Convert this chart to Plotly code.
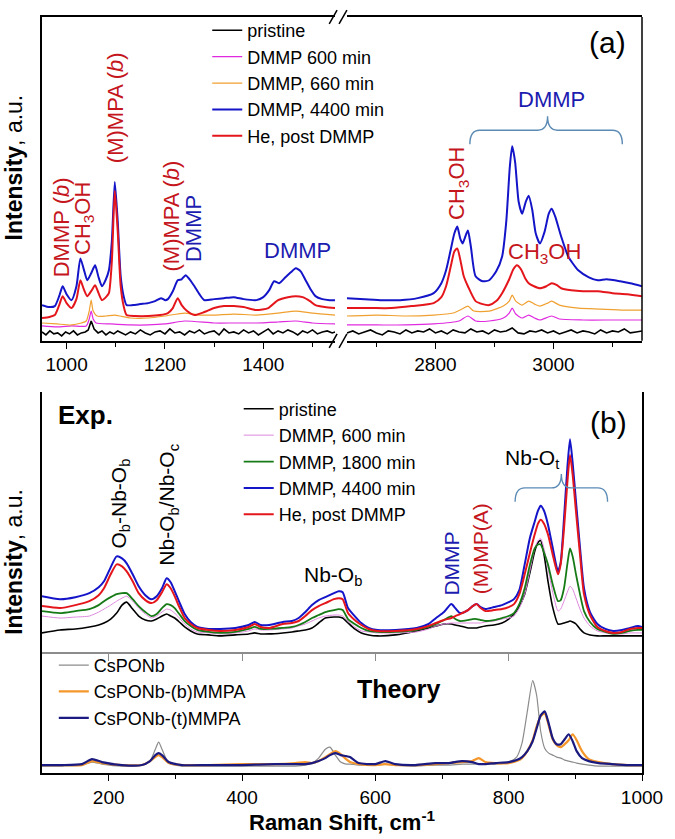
import plotly.graph_objects as go

# ---------------- panel (a) data, left window (cm-1 / arb. intensity) ----------------
a_blue_x = [950, 965, 976, 985, 992, 1000, 1010, 1020, 1028, 1035, 1042, 1050, 1058, 1065, 1072, 1080, 1086, 1092,
            1098, 1104, 1110, 1116, 1122, 1135, 1150, 1166, 1180, 1192, 1200, 1206, 1216, 1226, 1234, 1242, 1250,
            1260, 1270, 1280, 1300, 1320, 1340, 1360, 1386, 1400, 1412, 1422, 1432, 1445, 1456, 1466, 1476, 1486,
            1496, 1506, 1520, 1535, 1546]
a_blue_y = [36, 34, 35, 45, 55, 47, 41, 55, 83, 72, 61, 68, 76, 64, 55, 62, 71, 100,
            160, 120, 65, 45, 36, 36, 37, 38, 40, 43, 41, 42, 50, 61, 62, 66, 62,
            55, 47, 41, 42, 43, 44, 42, 41, 44, 51, 60, 58, 64, 69, 73, 70, 61,
            52, 45, 42, 41, 41]

a_red_x = [950, 965, 976, 985, 992, 1000, 1010, 1020, 1028, 1035, 1042, 1050, 1058, 1065, 1072, 1080, 1086, 1092,
           1098, 1104, 1110, 1116, 1122, 1140, 1166, 1190, 1206, 1216, 1226, 1234, 1245, 1260, 1280, 1300, 1320,
           1340, 1360, 1386, 1410, 1430, 1450, 1466, 1480, 1495, 1506, 1525, 1546]
a_red_y = [23, 24, 26, 36, 45, 38, 33, 42, 61, 52, 45, 50, 56, 48, 41, 44, 48, 80,
           151, 110, 55, 35, 26, 25, 25, 26, 28, 33, 43, 36, 30, 26, 29, 33, 35,
           35, 34, 31, 33, 41, 44, 45, 44, 40, 36, 34, 33]

a_orange_x = [950, 980, 1010, 1030, 1040, 1046, 1050, 1054, 1062, 1080, 1098, 1130, 1166, 1200, 1240, 1270, 1300,
              1340, 1386, 1430, 1466, 1500, 1546]
a_orange_y = [18, 17, 16, 18, 20, 30, 41, 30, 25, 25, 26, 23, 23, 25, 28, 26, 26,
              27, 26, 28, 30, 28, 26]

a_magenta_x = [950, 980, 1010, 1040, 1046, 1050, 1054, 1060, 1090, 1130, 1166, 1200, 1240, 1300, 1340, 1386, 1430,
               1466, 1500, 1546]
a_magenta_y = [15, 14, 15, 15, 22, 30, 22, 18, 17, 16, 16, 17, 20, 18, 18, 18, 19,
               20, 18, 17]

a_black_x = [950, 958, 966, 974, 982, 990, 998, 1006, 1014, 1022,
             1030, 1038, 1044, 1050, 1056, 1064, 1072, 1080, 1088, 1096,
             1104, 1112, 1120, 1130, 1140, 1150, 1160, 1170, 1180, 1190,
             1200, 1210, 1220, 1230, 1240, 1250, 1260, 1270, 1280, 1290,
             1300, 1310, 1320, 1330, 1340, 1350, 1360, 1370, 1380, 1390,
             1400, 1410, 1420, 1430, 1440, 1450, 1460, 1470, 1480, 1490,
             1500, 1510, 1520, 1530, 1540, 1546]
a_black_y = [9, 6, 10, 7, 8, 5, 9, 7, 10, 6,
             8, 9, 11, 20, 12, 8, 10, 6, 9, 7,
             10, 8, 6, 9, 7, 11, 8, 6, 9, 10,
             7, 12, 8, 9, 6, 10, 8, 11, 7, 9,
             10, 6, 12, 8, 9, 7, 11, 8, 10, 6,
             9, 12, 7, 10, 8, 11, 9, 6, 10, 8,
             11, 7, 9, 10, 8, 9]

# ---------------- panel (a) data, right window ----------------
ar_blue_x = [2650, 2680, 2710, 2740, 2770, 2797, 2810, 2818, 2826, 2832, 2837, 2842, 2846, 2850, 2855, 2860, 2868,
             2880, 2891, 2903, 2913, 2920, 2926, 2930, 2935, 2941, 2947, 2953, 2958, 2964, 2970, 2977, 2985, 2992,
             2997, 3003, 3013, 3025, 3042, 3060, 3075, 3090, 3113, 3130, 3150]
ar_blue_y = [43, 42, 41, 41, 43, 48, 58, 71, 92, 108, 115, 103, 98, 104, 111, 95, 65,
             60, 61, 70, 85, 120, 175, 196, 180, 140, 128, 140, 146, 132, 108, 98, 110, 128,
             133, 125, 105, 85, 71, 64, 61, 62, 60, 58, 55]

ar_red_x = [2650, 2690, 2725, 2760, 2797, 2810, 2818, 2826, 2832, 2837, 2842, 2848, 2855, 2868, 2880, 2891, 2903,
            2913, 2925, 2932, 2938, 2945, 2952, 2958, 2967, 2977, 2988, 2997, 3006, 3013, 3030, 3050, 3075, 3100,
            3125, 3150]
ar_red_y = [33, 33, 33, 35, 38, 44, 55, 75, 90, 93, 82, 65, 55, 40, 37, 36, 40,
            48, 62, 72, 76, 72, 63, 58, 55, 53, 55, 58, 56, 53, 51, 50, 50, 48,
            47, 45]

ar_orange_x = [2650, 2700, 2750, 2797, 2830, 2845, 2855, 2865, 2891, 2915, 2925, 2930, 2936, 2947, 2958, 2968, 2977,
               2990, 2997, 3010, 3042, 3080, 3120, 3150]
ar_orange_y = [25, 26, 25, 26, 28, 32, 35, 30, 30, 35, 40, 46, 40, 36, 40, 37, 35,
               38, 40, 36, 33, 32, 31, 31]

ar_magenta_x = [2650, 2700, 2750, 2797, 2840, 2855, 2868, 2891, 2915, 2925, 2930, 2936, 2947, 2958, 2968, 2977, 2997,
                3010, 3050, 3100, 3150]
ar_magenta_y = [16, 16, 16, 17, 20, 25, 20, 20, 23, 28, 33, 27, 23, 26, 23, 21, 25,
                22, 21, 21, 21]

ar_black_x = [2650, 2660, 2670, 2680, 2690, 2700, 2710, 2720, 2730, 2740,
              2750, 2760, 2770, 2780, 2790, 2800, 2810, 2820, 2830, 2840,
              2850, 2860, 2870, 2880, 2890, 2900, 2910, 2920, 2930, 2940,
              2950, 2960, 2970, 2980, 2990, 3000, 3010, 3020, 3030, 3040,
              3050, 3060, 3070, 3080, 3090, 3100, 3110, 3120, 3130, 3140, 3150]
ar_black_y = [8, 10, 7, 9, 11, 8, 6, 10, 9, 7,
              11, 8, 10, 9, 12, 8, 10, 7, 11, 9,
              8, 12, 9, 10, 7, 11, 9, 10, 13, 8,
              7, 10, 9, 11, 8, 10, 7, 9, 11, 8,
              10, 9, 7, 11, 8, 10, 9, 12, 8, 9, 10]

# ---------------- panel (b) experimental ----------------
b_x = [100, 127, 150, 171, 185, 193, 203, 212, 220, 227,
       236, 245, 255, 264, 272, 280, 287, 293, 299, 306,
       314, 323, 333, 350, 367, 390, 410, 419, 428, 441,
       461, 475, 485, 495, 505, 515, 525, 538, 545, 551,
       559, 569, 579, 590, 603, 630, 662, 680, 691, 703,
       714, 720, 727, 739, 746, 752, 758, 765, 778, 790,
       800, 808, 816, 824, 832, 839, 844, 848, 853, 859,
       866, 874, 878, 883, 888, 892, 896, 901, 907, 913,
       922, 933, 945, 957, 970, 982, 994, 1000]
b_blue = [56, 53, 55, 59, 65, 71, 85, 96, 94, 89,
          78, 66, 57, 53, 56, 64, 74, 70, 61, 50,
          38, 30, 25, 23, 23, 24, 27, 30, 27, 27,
          30, 31, 34, 40, 47, 52, 55, 59, 61, 60,
          44, 36, 29, 24, 22, 22, 24, 28, 34, 40,
          48, 44, 39, 42, 46, 48, 45, 43, 45, 47,
          50, 53, 62, 88, 115, 131, 142, 147, 142, 128,
          105, 81, 90, 134, 185, 214, 190, 151, 105, 64,
          40, 28, 23, 21, 22, 24, 26, 25]
b_red = [46, 44, 47, 51, 57, 64, 78, 88, 86, 81,
         71, 59, 52, 49, 52, 60, 68, 64, 56, 45,
         34, 28, 24, 22, 21, 22, 25, 28, 25, 24,
         28, 29, 31, 36, 42, 46, 49, 53, 54, 53,
         39, 32, 27, 23, 21, 21, 23, 26, 29, 32,
         34, 36, 38, 42, 46, 48, 44, 41, 42, 43,
         45, 48, 58, 78, 100, 118, 129, 133, 129, 118,
         98, 78, 88, 124, 170, 198, 178, 141, 98, 58,
         37, 25, 21, 19, 20, 23, 24, 24]
b_green = [41, 39, 41, 43, 47, 51, 55, 58, 59, 59,
           53, 46, 40, 36, 38, 44, 48, 47, 44, 38,
           31, 26, 22, 20, 19, 20, 23, 25, 23, 23,
           24, 25, 27, 30, 34, 37, 40, 42, 43, 42,
           33, 28, 24, 21, 20, 20, 22, 25, 28, 32,
           36, 33, 31, 32, 33, 33, 32, 31, 32, 34,
           36, 39, 48, 64, 88, 104, 108, 108, 100, 88,
           68, 51, 52, 64, 88, 104, 96, 78, 58, 41,
           30, 23, 20, 18, 19, 21, 22, 22]
b_plum = [36, 34, 35, 36, 40, 43, 47, 51, 54, 56,
          51, 44, 38, 34, 36, 40, 43, 42, 39, 34,
          28, 23, 20, 19, 18, 19, 21, 23, 22, 22,
          23, 24, 26, 28, 31, 34, 36, 37, 37, 36,
          31, 25, 21, 20, 19, 19, 20, 23, 26, 28,
          29, 29, 29, 29, 29, 29, 29, 30, 31, 33,
          34, 36, 44, 58, 82, 104, 112, 114, 104, 84,
          60, 41, 43, 51, 60, 66, 63, 54, 43, 34,
          26, 21, 19, 18, 18, 19, 19, 19]
b_black = [19, 22, 23, 25, 27, 29, 33, 39, 47, 50,
           43, 36, 32, 31, 33, 36, 38, 36, 34, 30,
           25, 21, 18, 17, 16, 17, 18, 19, 18, 18,
           19, 20, 21, 22, 24, 29, 34, 35, 35, 34,
           29, 23, 19, 17, 16, 17, 21, 24, 26, 28,
           28, 27, 26, 24, 24, 24, 25, 26, 27, 29,
           33, 38, 46, 58, 80, 101, 110, 112, 98, 71,
           45, 28, 28, 29, 30, 31, 30, 28, 23, 19,
           17, 16, 16, 16, 16, 16, 16, 16]

# ---------------- panel (b) theory ----------------
t_x = [100, 130, 160, 175, 190, 220, 250, 262, 270, 275,
       280, 290, 310, 350, 400, 450, 480, 495, 505, 515,
       525, 532, 540, 548, 556, 562, 575, 600, 615, 630,
       660, 690, 710, 730, 745, 755, 765, 780, 800, 812,
       820, 828, 836, 842, 848, 854, 860, 866, 872, 878,
       884, 890, 896, 902, 910, 920, 935, 955, 980, 1000]
t_gray = [7, 7, 8, 11, 9, 7, 8, 12, 24, 31,
          24, 10, 7, 7, 7, 7, 7, 8, 10, 15,
          24, 26, 18, 11, 9, 9, 8, 8, 9, 8,
          7, 8, 8, 9, 9, 9, 9, 9, 11, 16,
          30, 62, 93, 78, 42, 25, 20, 18, 16, 15,
          13, 12, 11, 10, 9, 8, 7, 7, 7, 7]
t_orange = [8, 8, 8, 12, 10, 8, 8, 12, 16, 18,
            16, 10, 8, 8, 9, 9, 10, 11, 10, 12,
            16, 19, 22, 19, 14, 11, 9, 8, 9, 8,
            8, 9, 10, 11, 12, 15, 11, 10, 10, 12,
            15, 22, 33, 47, 57, 60, 48, 34, 28, 26,
            29, 33, 39, 33, 22, 14, 11, 9, 8, 8]
t_navy = [8, 8, 9, 14, 11, 8, 8, 12, 18, 20,
          18, 11, 8, 8, 8, 9, 9, 9, 10, 12,
          15, 18, 20, 18, 17, 16, 10, 9, 12, 9,
          8, 10, 10, 12, 11, 9, 9, 10, 11, 13,
          16, 22, 32, 45, 58, 62, 50, 35, 29, 29,
          34, 39, 32, 22, 15, 12, 10, 9, 8, 8]

# ---------------- layout helpers (pixel -> paper) ----------------
W, H = 675, 839
ML, MR, MT, MB = 42, 23, 12, 66
PW, PH = W - ML - MR, H - MT - MB


def px(xp):
    return (xp - ML) / PW


def py(yp):
    return (H - MB - yp) / PH


FONT = "Liberation Sans, Arial, sans-serif"
RED_TXT = "#c4161c"
BLUE_TXT = "#1c1cb0"
GRAY_AX = "#8c8c8c"

fig = go.Figure()


def add_line(x, y, color, width, name, xaxis, yaxis, legend, show, shape="spline"):
    fig.add_trace(go.Scatter(
        x=x, y=y, mode="lines", name=name,
        line=dict(color=color, width=width, shape=shape, smoothing=0.6 if shape == "spline" else None),
        xaxis=xaxis, yaxis=yaxis, legend=legend, showlegend=show,
        hoverinfo="skip"))


# panel (a)
a_series = [
    ("pristine", "#000000", 1.6, a_black_x, a_black_y, ar_black_x, ar_black_y, "linear"),
    ("DMMP 600 min", "#e02ae0", 1.2, a_magenta_x, a_magenta_y, ar_magenta_x, ar_magenta_y, "spline"),
    ("DMMP, 660 min", "#f0a030", 1.2, a_orange_x, a_orange_y, ar_orange_x, ar_orange_y, "spline"),
    ("DMMP, 4400 min", "#1414c8", 2.0, a_blue_x, a_blue_y, ar_blue_x, ar_blue_y, "spline"),
    ("He, post DMMP", "#e4161c", 2.0, a_red_x, a_red_y, ar_red_x, ar_red_y, "spline"),
]
for name, col, w, xl, yl, xr, yr, shp in a_series:
    add_line(xl, yl, col, w, name, "x", "y", "legend", True, shp)
    add_line(xr, yr, col, w, name, "x2", "y", "legend", False, shp)

# panel (b) experiment
b_series = [
    ("pristine", "#000000", 1.6, b_black),
    ("DMMP, 600 min", "#dd88dd", 1.0, b_plum),
    ("DMMP, 1800 min", "#167a16", 1.8, b_green),
    ("DMMP, 4400 min", "#1414c8", 2.0, b_blue),
    ("He, post DMMP", "#e4161c", 2.0, b_red),
]
for name, col, w, yv in b_series:
    add_line(b_x, yv, col, w, name, "x3", "y3", "legend2", True)

# theory
t_series = [
    ("CsPONb", "#8c8c8c", 1.2, t_gray),
    ("CsPONb-(b)MMPA", "#f5962a", 2.2, t_orange),
    ("CsPONb-(t)MMPA", "#1a1a80", 2.2, t_navy),
]
for name, col, w, yv in t_series:
    add_line(t_x, yv, col, w, name, "x4", "y4", "legend3", True)

tickfont = dict(family=FONT, size=19, color="black")
noy = dict(showticklabels=False, ticks="", showgrid=False, zeroline=False,
           showline=True, linecolor="black", linewidth=1.5)
legfont = dict(family=FONT, size=18, color="black")

fig.update_layout(
    width=W, height=H,
    margin=dict(l=ML, r=MR, t=MT, b=MB),
    paper_bgcolor="white", plot_bgcolor="white",
    font=dict(family=FONT, color="black"),
    xaxis=dict(domain=[0, px(340)], range=[950, 1546], anchor="y",
               showline=True, mirror=True, linecolor="black", linewidth=1.5,
               ticks="outside", ticklen=6, tickwidth=1.3, tickcolor="black",
               tickvals=[1000, 1200, 1400], tickfont=tickfont,
               minor=dict(tickvals=[1100, 1300, 1500], ticks="outside", ticklen=4, tickcolor="black"),
               showgrid=False, zeroline=False),
    xaxis2=dict(domain=[px(352), 1], range=[2650, 3150], anchor="y",
                showline=True, mirror=True, linecolor="black", linewidth=1.5,
                ticks="outside", ticklen=6, tickwidth=1.3, tickcolor="black",
                tickvals=[2800, 3000], tickfont=tickfont,
                minor=dict(tickvals=[2700, 2900, 3100], ticks="outside", ticklen=4, tickcolor="black"),
                showgrid=False, zeroline=False),
    yaxis=dict(domain=[py(338), 1], range=[0, 326], anchor="x", **noy),
    xaxis3=dict(domain=[0, 1], range=[100, 1000], anchor="y3", side="bottom",
                showline=True, linecolor=GRAY_AX, linewidth=1.5,
                ticks="outside", ticklen=7, tickcolor=GRAY_AX, tickwidth=1.3,
                tickvals=[200, 400, 600, 800], showticklabels=False,
                showgrid=False, zeroline=False),
    xaxis5=dict(overlaying="x3", range=[100, 1000], anchor="y3", side="top",
                showline=True, linecolor="black", linewidth=1.5,
                ticks="inside", ticklen=7, tickcolor="black", tickwidth=1.3,
                tickvals=[200, 400, 600, 800], showticklabels=False,
                showgrid=False, zeroline=False),
    yaxis3=dict(domain=[py(651), py(389)], range=[0, 262], anchor="x3", mirror=True, **noy),
    xaxis4=dict(domain=[0, 1], range=[100, 1000], anchor="y4", side="bottom",
                showline=True, linecolor="black", linewidth=1.5,
                ticks="outside", ticklen=6, tickwidth=1.3, tickcolor="black",
                tickvals=[200, 400, 600, 800, 1000], tickfont=tickfont,
                minor=dict(tickvals=[300, 500, 700, 900], ticks="outside", ticklen=4, tickcolor="black"),
                showgrid=False, zeroline=False),
    xaxis6=dict(overlaying="x4", range=[100, 1000], anchor="y4", side="top",
                showline=True, linecolor=GRAY_AX, linewidth=1.5,
                ticks="outside", ticklen=7, tickcolor=GRAY_AX, tickwidth=1.3,
                tickvals=[200, 400, 600, 800], showticklabels=False,
                showgrid=False, zeroline=False),
    yaxis4=dict(domain=[0, py(651)], range=[0, 122], anchor="x4", mirror=True, **noy),
    legend=dict(x=px(210), y=py(7), xanchor="left", yanchor="top", bgcolor="rgba(0,0,0,0)",
                font=legfont, traceorder="normal"),
    legend2=dict(x=px(242), y=py(388), xanchor="left", yanchor="top", bgcolor="rgba(0,0,0,0)",
                 font=legfont, traceorder="normal"),
    legend3=dict(x=px(54), y=py(646), xanchor="left", yanchor="top", bgcolor="rgba(0,0,0,0)",
                 font=legfont, traceorder="normal"),
    showlegend=True,
)

# frame pieces: right edge of panel (a) and axis-break marks
shapes = [dict(type="line", xref="paper", yref="paper", x0=1, x1=1, y0=py(338), y1=1,
               line=dict(color="black", width=1.5))]
for yb in (338, 12):
    for xo in (334, 344):
        shapes.append(dict(type="line", xref="paper", yref="paper",
                           x0=px(xo), y0=py(yb + 7), x1=px(xo + 8), y1=py(yb - 7),
                           line=dict(color="black", width=1.5)))


def brace(x0, x1, xm, ybot, ybar, ytip):
    p = lambda a, b: f"{px(a):.5f},{py(b):.5f}"
    return ("M " + p(x0, ybot) + " Q " + p(x0, ybar) + " " + p(x0 + 10, ybar) +
            " L " + p(xm - 10, ybar) + " Q " + p(xm, ybar) + " " + p(xm, ytip) +
            " Q " + p(xm, ybar) + " " + p(xm + 10, ybar) +
            " L " + p(x1 - 10, ybar) + " Q " + p(x1, ybar) + " " + p(x1, ybot))


for args in ((477, 632, 556, 140, 126, 112), (523, 617, 570, 500, 486, 472)):
    shapes.append(dict(type="path", xref="paper", yref="paper", path=brace(*args),
                       line=dict(color="#5b8bb5", width=1.4)))
fig.update_layout(shapes=shapes)


def label(text, xp, yp, color="black", size=22, angle=0, yanchor="middle"):
    fig.add_annotation(text=text, x=px(xp), y=py(yp), xref="paper", yref="paper",
                       showarrow=False, textangle=angle, xanchor="center", yanchor=yanchor,
                       font=dict(family=FONT, size=size, color=color))


# panel (a) labels
label("DMMP (<i>b</i>)", 62, 224, RED_TXT, 22, -90)
label("CH<sub>3</sub>OH", 84, 215, RED_TXT, 22, -90)
label("(M)MPA (<i>b</i>)", 117, 103, RED_TXT, 22, -90)
label("(M)MPA (<i>b</i>)", 174, 212, RED_TXT, 22, -90)
label("DMMP", 196, 225, BLUE_TXT, 22, -90)
label("DMMP", 302, 247, BLUE_TXT, 22)
label("CH<sub>3</sub>OH", 465, 180, RED_TXT, 22, -90)
label("CH<sub>3</sub>OH", 553, 250, RED_TXT, 22)
label("DMMP", 560, 95, BLUE_TXT, 22)
label("(a)", 617, 38, "black", 30)

# panel (b) labels
label("<b>Exp.</b>", 86, 413, "black", 26)
label("(b)", 618, 420, "black", 30)
label("O<sub>b</sub>-Nb-O<sub>b</sub>", 121, 502, "black", 21, -90)
label("Nb-O<sub>b</sub>/Nb-O<sub>c</sub>", 170, 503, "black", 21, -90)
label("Nb-O<sub>b</sub>", 338, 575, "black", 21)
label("DMMP", 458, 562, BLUE_TXT, 21, -90)
label("(M)MP(A)", 488, 547, RED_TXT, 21, -90)
label("Nb-O<sub>t</sub>", 540, 457, "black", 21)
label("<b>Theory</b>", 404, 688, "black", 25)

# axis titles
label("<b>Intensity</b>, a.u.", 14, 163, "black", 23, -90)
label("<b>Intensity</b>, a.u.", 14, 560, "black", 23, -90)
label("<b>Raman Shift, cm<sup>-1</sup></b>", 347, 821, "black", 22)

# the page's default body margin would push the 675x839 figure off the window
fig.write_html("out.html", config={"displayModeBar": False},
               post_script="document.body.style.margin='0';")
